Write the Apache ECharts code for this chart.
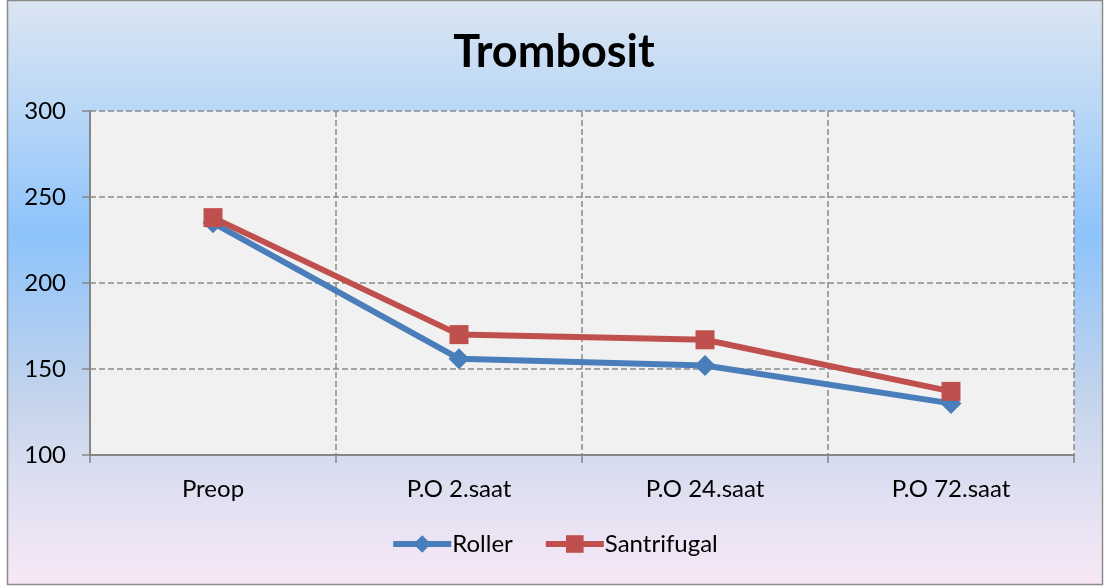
<!DOCTYPE html>
<html>
<head>
<meta charset="utf-8">
<title>Trombosit</title>
<script src="https://cdn.jsdelivr.net/npm/echarts@6/dist/echarts.min.js"></script>
<style>
    html, body { margin: 0; padding: 0; background: #ffffff; }
    #chart { width: 1108px; height: 586px; }
</style>
</head>
<body>
<div id="chart"></div>
<script>
// categories and values
var categories = ['Preop', 'P.O 2.saat', 'P.O 24.saat', 'P.O 72.saat'];
var roller = [235, 156, 152, 130];
var santrifugal = [238, 170, 167, 137];
var yTicks = [100, 150, 200, 250, 300];

var chart = echarts.init(document.getElementById('chart'));
var font = 'Lato, "Noto Sans", sans-serif';

var option = {
    backgroundColor: '#ffffff',
    animation: false,
    color: ['#4a7ebb', '#c0504d'],
    graphic: [
        {
            type: 'rect',
            z: -10,
            silent: true,
            shape: { x: 7.5, y: 0.5, width: 1095, height: 584 },
            style: {
                stroke: '#8c8c8c',
                lineWidth: 1.5,
                fill: new echarts.graphic.LinearGradient(0, 0, 0, 1, [
                    { offset: 0, color: '#dbe5f2' },
                    { offset: 0.19, color: '#b9d7f7' },
                    { offset: 0.4, color: '#8dc3fb' },
                    { offset: 0.68, color: '#c4d4ec' },
                    { offset: 0.78, color: '#d5dcef' },
                    { offset: 1, color: '#f9e8f7' }
                ])
            }
        }
    ],
    title: {
        text: 'Trombosit',
        left: 'center',
        top: 25,
        textStyle: { fontFamily: font, fontSize: 45, fontWeight: 'bold', color: '#000000' }
    },
    legend: {
        bottom: 25,
        left: 'center',
        itemWidth: 58,
        itemHeight: 22,
        itemGap: 30,
        lineStyle: { width: 6 },
        textStyle: { fontFamily: font, fontSize: 24, color: '#000000', padding: [0, 0, 0, -4] },
        data: ['Roller', 'Santrifugal']
    },
    grid: {
        left: 90,
        right: 34,
        top: 111,
        bottom: 131,
        show: true,
        backgroundColor: '#f1f1f1',
        borderWidth: 0
    },
    xAxis: {
        type: 'category',
        data: categories,
        boundaryGap: true,
        axisLine: { lineStyle: { color: '#868686', width: 2 } },
        axisTick: { show: true, interval: 0, length: 8, lineStyle: { color: '#868686', width: 1.5 } },
        axisLabel: { fontFamily: font, fontSize: 24, color: '#000000', margin: 22, interval: 0 },
        splitLine: { show: true, interval: 0, lineStyle: { color: '#8a8a8a', type: [6, 3], width: 1.5 } }
    },
    yAxis: {
        type: 'value',
        min: yTicks[0],
        max: yTicks[yTicks.length - 1],
        interval: 50,
        axisLine: { show: true, lineStyle: { color: '#868686', width: 2 } },
        axisTick: { show: true, length: 8, lineStyle: { color: '#868686', width: 1.5 } },
        axisLabel: { fontFamily: font, fontSize: 24, color: '#000000', margin: 24 },
        splitLine: { show: true, lineStyle: { color: '#8a8a8a', type: [6, 3], width: 1.5 } }
    },
    series: [
        {
            name: 'Roller',
            type: 'line',
            data: roller,
            symbol: 'diamond',
            symbolSize: 21,
            lineStyle: { width: 6, color: '#4a7ebb' },
            itemStyle: { color: '#4a7ebb' }
        },
        {
            name: 'Santrifugal',
            type: 'line',
            data: santrifugal,
            symbol: 'rect',
            symbolSize: 19,
            lineStyle: { width: 6, color: '#c0504d' },
            itemStyle: { color: '#c0504d' }
        }
    ]
};

chart.setOption(option);
</script>
</body>
</html>
